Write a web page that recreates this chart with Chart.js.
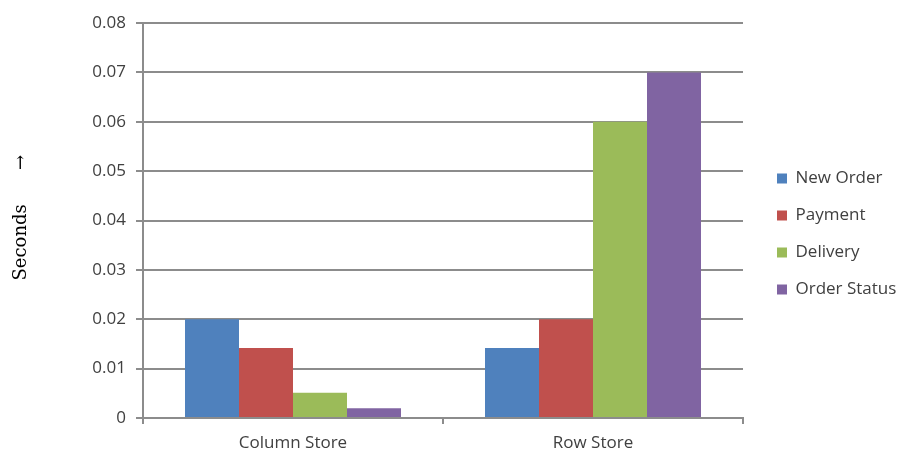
<!DOCTYPE html>
<html>
<head>
<meta charset="utf-8">
<script src="https://cdn.jsdelivr.net/npm/chart.js@4"></script>
<style>
  html, body { margin: 0; padding: 0; background: #fff; }
  #wrap { width: 901px; height: 453px; }
</style>
</head>
<body>
<div id="wrap"><canvas id="myChart" width="901" height="453"></canvas></div>
<script>
const categories = ['Column Store', 'Row Store'];
const seriesNames = ['New Order', 'Payment', 'Delivery', 'Order Status'];
const newOrder = [0.02, 0.0142];
const payment = [0.0142, 0.02];
const delivery = [0.0051, 0.06];
const orderStatus = [0.002, 0.07];
const colors = ['#4F81BD', '#C0504D', '#9BBB59', '#8064A2'];

const seriesValues = [newOrder, payment, delivery, orderStatus];
let datasets = [];
for (let i = 0; i < seriesNames.length; i++) {
    datasets.push({
        label: seriesNames[i],
        data: seriesValues[i],
        backgroundColor: colors[i],
        borderWidth: 0,
        categoryPercentage: 0.72,
        barPercentage: 1.0
    });
}

const textColor = '#404040';
const gridColor = '#8c8c8c';
const labelFont = { family: 'Open Sans', size: 17 };

// legend sits a bit away from the plot, like the Excel original
const legendPlace = {
    id: 'legendPlace',
    beforeLayout(chart) {
        const lg = chart.legend;
        if (lg && !lg._patched) {
            const orig = lg.fit.bind(lg);
            lg.fit = function() { orig(); this.width = 158; };
            lg._patched = true;
        }
    },
    afterLayout(chart) {
        const lg = chart.legend;
        lg.left = chart.chartArea.right + 14;
        lg.right = lg.left + 158;
        lg.top -= 4;
        lg.bottom -= 4;
    }
};

var canvas = document.getElementById('myChart');
var myChart = new Chart(canvas, {
    type: 'bar',
    data: { labels: categories, datasets: datasets },
    plugins: [legendPlace],
    options: {
        responsive: false,
        animation: false,
        layout: { padding: { left: 11, top: 23, right: 0, bottom: 0 } },
        plugins: {
            tooltip: { enabled: false },
            legend: {
                position: 'right',
                labels: {
                    color: textColor,
                    font: labelFont,
                    boxWidth: 10,
                    boxHeight: 10,
                    padding: 20
                }
            }
        },
        scales: {
            x: {
                offset: true,
                afterFit: function(scale) { scale.height = 35; },
                grid: {
                    offset: true,
                    drawOnChartArea: false,
                    color: gridColor,
                    lineWidth: 2,
                    tickLength: 6
                },
                border: { color: gridColor, width: 2 },
                ticks: {
                    color: textColor,
                    font: labelFont,
                    padding: 9
                }
            },
            y: {
                min: 0,
                max: 0.08,
                afterFit: function(scale) { scale.width = 132; },
                ticks: {
                    stepSize: 0.01,
                    color: textColor,
                    font: labelFont,
                    padding: 10,
                    callback: function(v) { return v === 0 ? '0' : v.toFixed(2); }
                },
                grid: { color: gridColor, lineWidth: 2, tickLength: 7 },
                border: { color: gridColor, width: 2 },
                title: {
                    display: true,
                    text: ' Seconds      \u2192',
                    color: '#000',
                    font: { family: 'DejaVu Serif', size: 18 },
                    padding: { top: 0, bottom: 0 }
                }
            }
        }
    }
});
</script>
</body>
</html>
